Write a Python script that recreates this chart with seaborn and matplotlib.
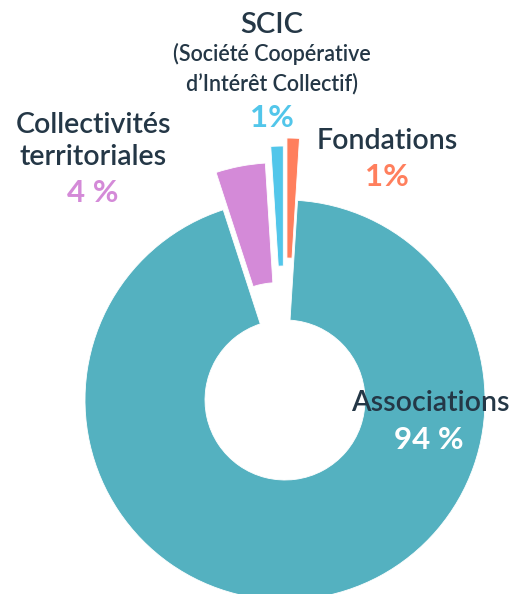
import matplotlib
matplotlib.use("Agg")
import matplotlib.pyplot as plt
import seaborn as sns

# chart data (clockwise from the top)
labels = ["Associations", "Collectivités territoriales", "SCIC", "Fondations"]
shares = [94, 4, 1, 1]
pct_labels = ["94 %", "4 %", "1%", "1%"]
colors = ["#54B1C0", "#D48AD8", "#52C6EA", "#FF7F5D"]
explode = [0, 0.19, 0.27, 0.31]

dark = "#243746"

sns.set_theme(style="white")
plt.rcParams['font.family'] = ['Lato', 'DejaVu Sans']

fig = plt.figure(figsize=(5.1, 5.94), dpi=100)
ax = fig.add_axes([0, 0, 1, 1])

ax.pie(shares, colors=sns.color_palette(colors), explode=explode,
       startangle=90 - 360 * shares[-1] / sum(shares), counterclock=False,
       radius=1, wedgeprops=dict(width=0.6, edgecolor="white", linewidth=0.6))

ax.set_aspect("equal")
ax.set_xlim(-1.425, 1.125)
ax.set_ylim(-0.97, 2.0)
ax.axis("off")


def px(x, y):
    # pixel position in the 510x594 picture -> data coordinates
    return (x - 285) / 200, (400 - y) / 200


name_kw = dict(ha="center", va="center", fontsize=20.5, color=dark, fontweight="semibold")
pct_kw = dict(ha="center", va="center", fontsize=22.5, fontweight="bold")

# Associations
ax.text(*px(430, 403), "Associations", **name_kw)
ax.text(*px(429, 440), pct_labels[0], color="white", **pct_kw)

# Collectivités territoriales
ax.text(*px(93, 125), "Collectivités", **name_kw)
ax.text(*px(93, 157), "territoriales", **name_kw)
ax.text(*px(93, 193), pct_labels[1], color=colors[1], **pct_kw)

# SCIC
ax.text(*px(272, 25), "SCIC", ha="center", va="center",
        fontsize=21, color=dark, fontweight="semibold")
ax.text(*px(272, 54), "(Société Coopérative", ha="center", va="center",
        fontsize=15.5, color=dark, fontweight="semibold")
ax.text(*px(272, 84), "d\u2019Intérêt Collectif)", ha="center", va="center",
        fontsize=15.5, color=dark, fontweight="semibold")
ax.text(*px(272, 118), pct_labels[2], color=colors[2], **pct_kw)

# Fondations
ax.text(*px(387, 141), "Fondations", **name_kw)
ax.text(*px(387, 177), pct_labels[3], color=colors[3], **pct_kw)

fig.savefig("out.png", dpi=100, facecolor="white")
